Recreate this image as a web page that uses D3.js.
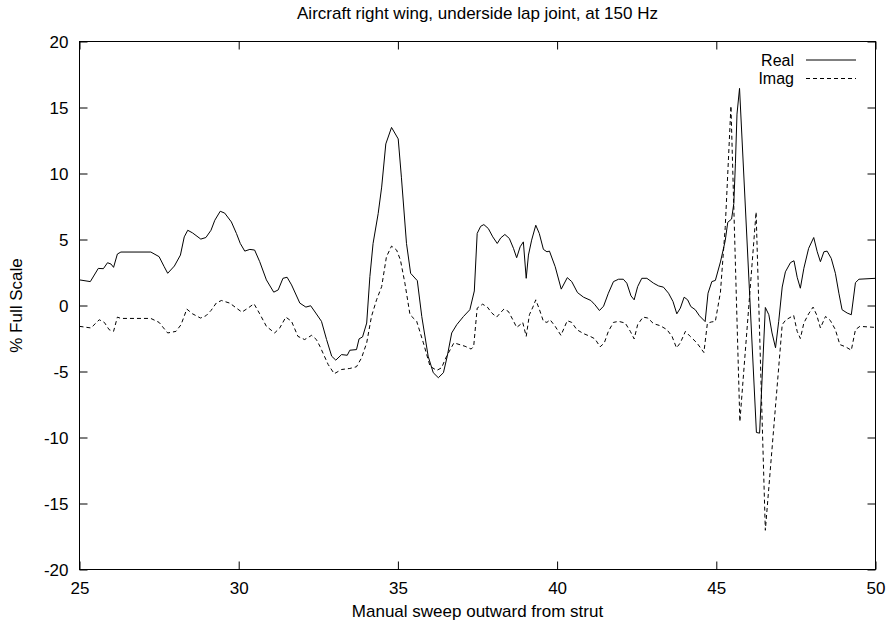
<!DOCTYPE html>
<html>
<head>
<meta charset="utf-8">
<script src="https://cdn.jsdelivr.net/npm/d3@7"></script>
<style>
  body { margin: 0; background: #fff; }
  svg { display: block; font-family: "Liberation Sans", Arial, sans-serif; }
</style>
</head>
<body>
<svg id="chart" width="889" height="626"></svg>
<script>
const titleText = "Aircraft right wing, underside lap joint, at 150 Hz";
const xLabelText = "Manual sweep outward from strut";
const yLabelText = "% Full Scale";
const seriesNames = ["Real", "Imag"];
const xTicks = [25, 30, 35, 40, 45, 50];
const yTicks = [-20, -15, -10, -5, 0, 5, 10, 15, 20];

const realX = [25.00,25.34,25.59,25.75,25.88,25.99,26.07,26.19,26.30,27.24,27.50,27.66,27.77,27.98,28.17,28.29,28.40,28.55,28.81,28.97,29.13,29.25,29.42,29.56,29.77,29.93,30.05,30.19,30.35,30.50,30.66,30.87,31.10,31.24,31.39,31.52,31.66,31.92,32.11,32.26,32.42,32.60,32.76,32.92,33.05,33.23,33.41,33.49,33.70,33.78,33.89,34.02,34.12,34.22,34.38,34.49,34.62,34.80,35.01,35.11,35.27,35.40,35.61,35.75,35.95,36.11,36.27,36.43,36.55,36.69,36.85,37.06,37.26,37.40,37.49,37.60,37.70,37.84,37.98,38.12,38.23,38.36,38.50,38.63,38.73,38.84,38.94,39.03,39.10,39.20,39.33,39.44,39.57,39.68,39.76,39.94,40.13,40.32,40.46,40.64,40.83,41.06,41.19,41.33,41.46,41.61,41.77,41.93,42.08,42.19,42.32,42.42,42.53,42.66,42.82,43.03,43.19,43.34,43.50,43.64,43.76,43.87,43.99,44.10,44.20,44.34,44.47,44.65,44.74,44.86,44.97,45.13,45.28,45.36,45.48,45.55,45.60,45.65,45.73,46.26,46.36,46.54,46.65,46.75,46.86,46.96,47.07,47.17,47.33,47.44,47.54,47.64,47.75,47.90,48.06,48.17,48.27,48.38,48.48,48.61,48.74,48.85,48.95,49.11,49.24,49.37,49.48,50.00];
const realY = [1.94,1.81,2.81,2.79,3.24,3.14,2.89,3.90,4.05,4.05,3.70,2.94,2.44,2.99,3.82,5.20,5.70,5.50,5.03,5.15,5.70,6.46,7.14,7.00,6.33,5.45,4.70,4.12,4.25,4.20,3.32,1.94,1.01,1.18,2.06,2.14,1.56,0.18,-0.12,-0.02,-0.57,-1.20,-2.58,-3.84,-4.14,-3.72,-3.77,-3.39,-3.34,-2.53,-2.38,-1.33,2.19,4.70,6.96,8.97,12.24,13.49,12.62,9.72,4.70,2.44,1.88,-0.83,-3.84,-5.09,-5.47,-5.09,-3.84,-2.08,-1.45,-0.83,-0.32,1.10,5.46,6.00,6.13,5.83,5.20,4.70,5.12,5.38,5.08,4.33,3.62,4.45,4.82,2.06,3.82,4.95,6.08,5.46,4.25,4.07,4.12,2.94,1.24,2.11,1.81,0.98,0.63,0.38,0.05,-0.38,-0.05,0.93,1.81,1.99,1.99,1.69,0.73,0.43,1.43,2.06,2.06,1.69,1.48,1.39,0.93,0.30,-0.63,-0.20,0.63,0.43,-0.08,-0.32,-0.78,-1.22,0.93,1.81,1.90,3.30,4.90,6.30,6.55,7.72,10.73,14.50,16.45,-9.62,-9.67,-0.15,-0.70,-2.08,-3.20,-1.20,1.40,2.55,3.25,3.39,2.14,1.31,2.82,4.33,5.15,4.07,3.32,4.07,4.12,3.57,2.44,0.93,-0.32,-0.57,-0.70,1.73,1.99,2.06];

const imagX = [25.00,25.36,25.62,25.78,25.93,26.07,26.19,26.30,27.24,27.50,27.64,27.77,28.03,28.19,28.37,28.55,28.80,28.97,29.13,29.30,29.46,29.72,29.93,30.10,30.29,30.48,30.66,30.87,31.13,31.29,31.48,31.66,31.86,32.07,32.29,32.44,32.55,32.81,33.00,33.23,33.49,33.70,33.86,34.02,34.17,34.33,34.49,34.64,34.80,34.96,35.08,35.22,35.38,35.59,35.80,36.01,36.22,36.37,36.53,36.76,37.11,37.30,37.38,37.49,37.66,37.81,37.95,38.10,38.23,38.33,38.47,38.61,38.73,38.84,38.92,39.03,39.13,39.24,39.33,39.44,39.57,39.68,39.78,39.94,40.12,40.32,40.46,40.62,40.83,41.04,41.19,41.35,41.48,41.61,41.77,41.93,42.14,42.30,42.42,42.53,42.70,42.85,43.03,43.24,43.45,43.61,43.75,43.87,44.03,44.18,44.39,44.61,44.72,44.84,44.97,45.13,45.28,45.46,45.74,46.25,46.54,47.07,47.18,47.43,47.54,47.64,47.75,47.90,48.04,48.15,48.27,48.43,48.58,48.74,48.88,49.06,49.24,49.37,49.51,50.00];
const imagY = [-1.58,-1.70,-1.08,-1.28,-1.83,-1.96,-0.88,-0.98,-0.98,-1.28,-1.70,-2.08,-1.96,-1.45,-0.27,-0.63,-0.95,-0.78,-0.38,0.20,0.38,0.18,-0.20,-0.50,-0.20,0.13,-0.63,-1.58,-2.08,-1.70,-0.88,-1.20,-2.34,-2.58,-2.26,-2.58,-3.09,-4.47,-5.17,-4.85,-4.77,-4.64,-3.96,-2.83,-0.83,0.43,1.43,3.69,4.50,4.20,3.44,1.69,-0.70,-1.20,-2.83,-4.60,-4.92,-4.72,-3.84,-2.83,-3.09,-3.30,-3.10,-0.20,0.10,-0.12,-0.57,-0.88,-0.53,-0.27,-0.45,-1.08,-1.66,-1.45,-1.28,-2.34,-0.70,-0.12,0.43,-0.27,-1.20,-1.28,-1.08,-1.58,-2.26,-1.15,-1.28,-1.83,-2.13,-2.34,-2.53,-3.13,-2.85,-1.96,-1.28,-1.20,-1.33,-1.96,-2.53,-1.45,-0.88,-0.95,-1.38,-1.53,-1.83,-2.34,-3.21,-2.83,-1.96,-2.34,-2.83,-3.56,-1.35,-1.25,-1.20,1.00,5.90,15.12,-8.80,7.08,-17.03,-1.45,-1.10,-0.75,-1.96,-2.50,-1.33,-0.63,-0.12,-0.70,-1.70,-0.83,-1.13,-1.83,-2.96,-3.13,-3.39,-1.83,-1.58,-1.66];

const svg = d3.select("#chart");
const pL = 79.5, pR = 875.5, pT = 41.5, pB = 569.5;
const x = d3.scaleLinear().domain([25, 50]).range([pL, pR]);
const y = d3.scaleLinear().domain([-20, 20]).range([pB, pT]);
const fs = 17;
const fmt = d => String(d);

const gB = svg.append("g").attr("transform", `translate(0,${pB})`)
  .call(d3.axisBottom(x).tickValues(xTicks).tickFormat(fmt).tickSizeInner(-8).tickSizeOuter(0).tickPadding(12));
const gT = svg.append("g").attr("transform", `translate(0,${pT})`)
  .call(d3.axisTop(x).tickValues(xTicks).tickFormat("").tickSizeInner(-8).tickSizeOuter(0));
const gL = svg.append("g").attr("transform", `translate(${pL},0)`)
  .call(d3.axisLeft(y).tickValues(yTicks).tickFormat(fmt).tickSizeInner(-8).tickSizeOuter(0).tickPadding(11));
const gR = svg.append("g").attr("transform", `translate(${pR},0)`)
  .call(d3.axisRight(y).tickValues(yTicks).tickFormat("").tickSizeInner(-8).tickSizeOuter(0));
[gB, gT, gL, gR].forEach(g => {
  g.select(".domain").remove();
  g.selectAll("line").attr("stroke", "#000").attr("stroke-width", 1);
  g.selectAll("text").attr("fill", "#000").style("font-size", fs + "px")
    .style("font-family", "'Liberation Sans', Arial, sans-serif");
});
gL.selectAll("text").attr("dy", "0.36em");

svg.append("rect").attr("x", pL).attr("y", pT)
  .attr("width", pR - pL).attr("height", pB - pT)
  .attr("fill", "none").attr("stroke", "#000").attr("stroke-width", 1);

svg.append("clipPath").attr("id", "clip").append("rect")
  .attr("x", pL).attr("y", pT).attr("width", pR - pL).attr("height", pB - pT);

const line = d3.line().x(d => x(d[0])).y(d => y(d[1]));
const realData = realX.map((v, i) => [v, realY[i]]);
const imagData = imagX.map((v, i) => [v, imagY[i]]);

svg.append("path").datum(realData).attr("clip-path", "url(#clip)")
  .attr("d", line).attr("fill", "none").attr("stroke", "#000").attr("stroke-width", 1);
svg.append("path").datum(imagData).attr("clip-path", "url(#clip)")
  .attr("d", line).attr("fill", "none").attr("stroke", "#000").attr("stroke-width", 1)
  .attr("stroke-dasharray", "4,3");

const legY = [60, 78.5];
seriesNames.forEach((name, i) => {
  svg.append("text").attr("x", 794).attr("y", legY[i]).attr("dy", "0.36em")
    .attr("text-anchor", "end").style("font-size", "16px").text(name);
  svg.append("line").attr("x1", 806).attr("x2", 856).attr("y1", legY[i]).attr("y2", legY[i])
    .attr("stroke", "#000").attr("stroke-width", 1)
    .attr("stroke-dasharray", i === 1 ? "4,3" : null);
});

svg.append("text").attr("x", (pL + pR) / 2).attr("y", 19).attr("text-anchor", "middle")
  .style("font-size", fs + "px").text(titleText);
svg.append("text").attr("x", (pL + pR) / 2).attr("y", 617).attr("text-anchor", "middle")
  .style("font-size", fs + "px").text(xLabelText);
svg.append("text").attr("transform", `translate(22,${(pT + pB) / 2}) rotate(-90)`)
  .attr("text-anchor", "middle").style("font-size", fs + "px").text(yLabelText);
</script>
</body>
</html>
